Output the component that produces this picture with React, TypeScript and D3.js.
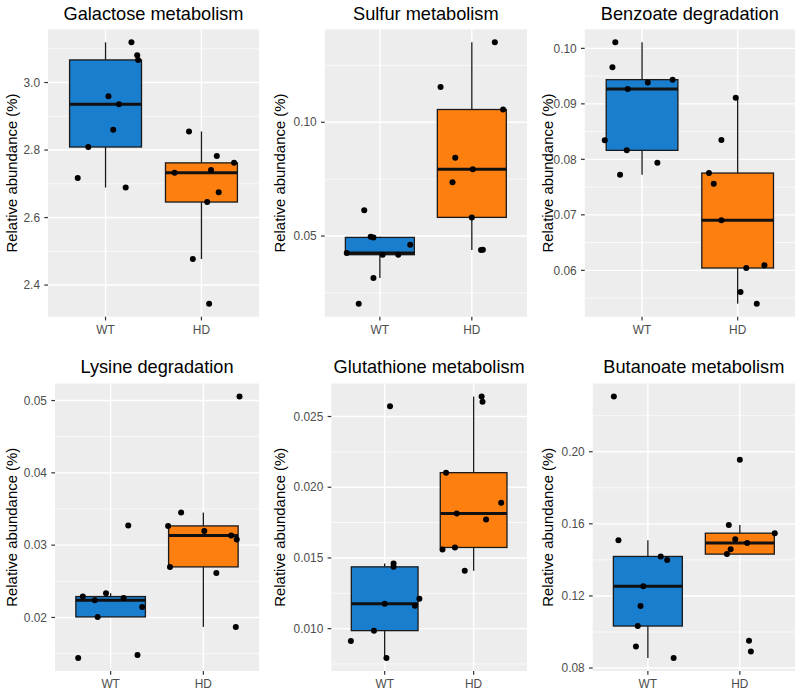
import React from "react";
import * as d3 from "d3";

// ---------- DATA ----------
const titles = [
  "Galactose metabolism",
  "Sulfur metabolism",
  "Benzoate degradation",
  "Lysine degradation",
  "Glutathione metabolism",
  "Butanoate metabolism",
];
const groups = ["WT", "HD"];

const galactoseWT = [3.119, 3.081, 3.067, 2.959, 2.936, 2.86, 2.809, 2.717, 2.689];
const galactoseHD = [2.855, 2.782, 2.762, 2.741, 2.733, 2.675, 2.646, 2.477, 2.345];
const sulfurWT = [0.0613, 0.0497, 0.0494, 0.0462, 0.0426, 0.0418, 0.0418, 0.0316, 0.0203];
const sulfurHD = [0.1351, 0.1155, 0.1056, 0.0844, 0.0793, 0.0736, 0.0582, 0.0439, 0.044];
const benzoateWT = [0.10108, 0.09658, 0.09436, 0.09387, 0.09267, 0.08342, 0.08162, 0.0794, 0.07724];
const benzoateHD = [0.09112, 0.08348, 0.07753, 0.07561, 0.06901, 0.0609, 0.06042, 0.0561, 0.054];
const lysineWT = [0.03271, 0.02335, 0.02289, 0.0227, 0.02238, 0.02145, 0.02007, 0.01481, 0.0144];
const lysineHD = [0.05055, 0.0345, 0.03266, 0.03197, 0.03133, 0.03078, 0.02699, 0.02616, 0.01869];
const glutathioneWT = [0.02573, 0.01461, 0.01437, 0.01212, 0.01176, 0.01162, 0.00986, 0.00913, 0.00793];
const glutathioneHD = [0.02641, 0.02604, 0.02103, 0.01891, 0.01814, 0.01771, 0.01574, 0.0156, 0.01409];
const butanoateWT = [0.2306, 0.1509, 0.1419, 0.14, 0.1253, 0.1144, 0.1033, 0.0919, 0.0856];
const butanoateHD = [0.1956, 0.1594, 0.1548, 0.1515, 0.1494, 0.1459, 0.1432, 0.0952, 0.0891];

// horizontal jitter of each point, in category units
const galactoseWTJit = [0.27, 0.33, 0.34, 0.03, 0.14, 0.08, -0.18, -0.29, 0.21];
const galactoseHDJit = [-0.13, 0.16, 0.34, 0.1, -0.28, 0.18, 0.06, -0.09, 0.08];
const sulfurWTJit = [-0.17, -0.1, -0.07, 0.33, -0.36, 0.03, 0.2, -0.07, -0.23];
const sulfurHDJit = [0.25, -0.34, 0.34, -0.18, 0.01, -0.21, 0.0, 0.1, 0.12];
const benzoateWTJit = [-0.28, -0.31, 0.32, 0.06, -0.15, -0.39, -0.16, 0.16, -0.23];
const benzoateHDJit = [-0.02, -0.17, -0.3, -0.25, -0.17, 0.28, 0.09, 0.03, 0.2];
const lysineWTJit = [0.19, -0.05, -0.3, 0.14, -0.17, 0.34, -0.14, 0.29, -0.35];
const lysineHDJit = [0.39, -0.24, -0.38, 0.01, 0.3, 0.36, -0.36, 0.14, 0.35];
const glutathioneWTJit = [0.06, 0.1, 0.1, 0.39, 0.0, 0.34, -0.12, -0.38, 0.02];
const glutathioneHDJit = [0.09, 0.1, -0.31, 0.31, -0.19, 0.14, -0.21, -0.35, -0.1];
const butanoateWTJit = [-0.37, -0.32, 0.14, 0.21, -0.05, -0.08, -0.11, -0.13, 0.28];
const butanoateHDJit = [0.0, -0.12, 0.38, -0.05, 0.08, -0.1, -0.14, 0.1, 0.12];

const galactoseTicks = [2.4, 2.6, 2.8, 3.0];
const sulfurTicks = [0.05, 0.1];
const benzoateTicks = [0.06, 0.07, 0.08, 0.09, 0.1];
const lysineTicks = [0.02, 0.03, 0.04, 0.05];
const glutathioneTicks = [0.01, 0.015, 0.02, 0.025];
const butanoateTicks = [0.08, 0.12, 0.16, 0.2];
const tickFormats = [".1f", ".2f", ".2f", ".2f", ".3f", ".2f"];

const yLabel = "Relative abundance (%)";

// ---------- STYLE / LAYOUT ----------
const groupColors = ["#1A7ECF", "#FD7F10"];
const FONT = "Arial, 'Liberation Sans', Helvetica, sans-serif";

const panelRects = [
  { x0: 48, x1: 259, y0: 29.3, y1: 316.7 },
  { x0: 324.7, x1: 527, y0: 29.3, y1: 316.7 },
  { x0: 584.7, x1: 795, y0: 29.3, y1: 316.7 },
  { x0: 55, x1: 259, y0: 383.5, y1: 671 },
  { x0: 331.3, x1: 527, y0: 383.5, y1: 671 },
  { x0: 592.7, x1: 795, y0: 383.5, y1: 671 },
];
const titleBaselines = [19.5, 373];

const seriesList = [
  [galactoseWT, galactoseHD],
  [sulfurWT, sulfurHD],
  [benzoateWT, benzoateHD],
  [lysineWT, lysineHD],
  [glutathioneWT, glutathioneHD],
  [butanoateWT, butanoateHD],
];
const jitterList = [
  [galactoseWTJit, galactoseHDJit],
  [sulfurWTJit, sulfurHDJit],
  [benzoateWTJit, benzoateHDJit],
  [lysineWTJit, lysineHDJit],
  [glutathioneWTJit, glutathioneHDJit],
  [butanoateWTJit, butanoateHDJit],
];
const tickList = [galactoseTicks, sulfurTicks, benzoateTicks, lysineTicks, glutathioneTicks, butanoateTicks];

function boxStats(values: number[]) {
  const s = [...values].sort((a, b) => a - b);
  const q1 = d3.quantile(s, 0.25)!;
  const med = d3.quantile(s, 0.5)!;
  const q3 = d3.quantile(s, 0.75)!;
  const iqr = q3 - q1;
  const lo = d3.min(s.filter((v) => v >= q1 - 1.5 * iqr))!;
  const hi = d3.max(s.filter((v) => v <= q3 + 1.5 * iqr))!;
  return { q1, med, q3, lo, hi };
}

function Panel({ i }: { i: number }) {
  const r = panelRects[i];
  const series = seriesList[i];
  const jit = jitterList[i];
  const ticks = tickList[i];
  const all = series.flat();
  const [mn, mx] = d3.extent(all) as [number, number];
  const pad = (mx - mn) * 0.05;
  const y = d3.scaleLinear().domain([mn - pad, mx + pad]).range([r.y1, r.y0]);
  const x = d3.scaleLinear().domain([0.4, 2.6]).range([r.x0, r.x1]);
  const fmt = d3.format(tickFormats[i]);
  const step = ticks[1] - ticks[0];
  const minors: number[] = [];
  for (let k = -1; k <= ticks.length + 1; k++) {
    const v = ticks[0] + step * (k - 0.5);
    if (v > y.domain()[0] && v < y.domain()[1]) minors.push(v);
  }
  const col = i % 3;
  const row = Math.floor(i / 3);
  const colX = col * 268;
  const cx = (r.x0 + r.x1) / 2;
  const cy = (r.y0 + r.y1) / 2;
  const bw = 0.75;
  return (
    <g>
      <text x={cx} y={titleBaselines[row]} textAnchor="middle" fontSize={18.2} fill="#000">
        {titles[i]}
      </text>
      <text
        transform={`translate(${colX + 17},${cy}) rotate(-90)`}
        textAnchor="middle"
        fontSize={14.9}
        fill="#000"
      >
        {yLabel}
      </text>
      <rect x={r.x0} y={r.y0} width={r.x1 - r.x0} height={r.y1 - r.y0} fill="#EDEDED" />
      {minors.map((v, k) => (
        <line key={"mn" + k} x1={r.x0} x2={r.x1} y1={y(v)} y2={y(v)} stroke="#fff" strokeWidth={0.7} />
      ))}
      {ticks.map((v, k) => (
        <line key={"mj" + k} x1={r.x0} x2={r.x1} y1={y(v)} y2={y(v)} stroke="#fff" strokeWidth={1.4} />
      ))}
      {groups.map((g, gi) => (
        <line key={"vx" + g} x1={x(gi + 1)} x2={x(gi + 1)} y1={r.y0} y2={r.y1} stroke="#fff" strokeWidth={1.4} />
      ))}
      {/* y ticks */}
      {ticks.map((v, k) => (
        <g key={"yt" + k}>
          <line x1={r.x0 - 3.7} x2={r.x0} y1={y(v)} y2={y(v)} stroke="#333" strokeWidth={1.2} />
          <text x={r.x0 - 8} y={y(v)} dy="0.35em" textAnchor="end" fontSize={11.9} fill="#4D4D4D">
            {fmt(v)}
          </text>
        </g>
      ))}
      {/* x ticks */}
      {groups.map((g, gi) => (
        <g key={"xt" + g}>
          <line x1={x(gi + 1)} x2={x(gi + 1)} y1={r.y1} y2={r.y1 + 3.7} stroke="#333" strokeWidth={1.2} />
          <text x={x(gi + 1)} y={r.y1 + 16.8} textAnchor="middle" fontSize={11.9} fill="#4D4D4D">
            {g}
          </text>
        </g>
      ))}
      {/* boxes */}
      {groups.map((g, gi) => {
        const st = boxStats(series[gi]);
        const c = gi + 1;
        return (
          <g key={"bx" + g}>
            <line x1={x(c)} x2={x(c)} y1={y(st.q3)} y2={y(st.hi)} stroke="#1a1a1a" strokeWidth={1.3} />
            <line x1={x(c)} x2={x(c)} y1={y(st.q1)} y2={y(st.lo)} stroke="#1a1a1a" strokeWidth={1.3} />
            <rect
              x={x(c - bw / 2)}
              y={y(st.q3)}
              width={x(c + bw / 2) - x(c - bw / 2)}
              height={y(st.q1) - y(st.q3)}
              fill={groupColors[gi]}
              stroke="#1a1a1a"
              strokeWidth={1.3}
            />
            <line
              x1={x(c - bw / 2)}
              x2={x(c + bw / 2)}
              y1={y(st.med)}
              y2={y(st.med)}
              stroke="#111"
              strokeWidth={3}
            />
          </g>
        );
      })}
      {/* points */}
      {groups.map((g, gi) =>
        series[gi].map((v, k) => (
          <circle key={g + "p" + k} cx={x(gi + 1 + jit[gi][k])} cy={y(v)} r={3} fill="#000" />
        ))
      )}
    </g>
  );
}

export default function App() {
  return (
    <svg
      width={804}
      height={694}
      style={{ position: "absolute", left: 0, top: 0, background: "#fff" }}
      fontFamily={FONT}
    >
      <rect width={804} height={694} fill="#fff" />
      {titles.map((_, i) => (
        <Panel key={i} i={i} />
      ))}
    </svg>
  );
}
